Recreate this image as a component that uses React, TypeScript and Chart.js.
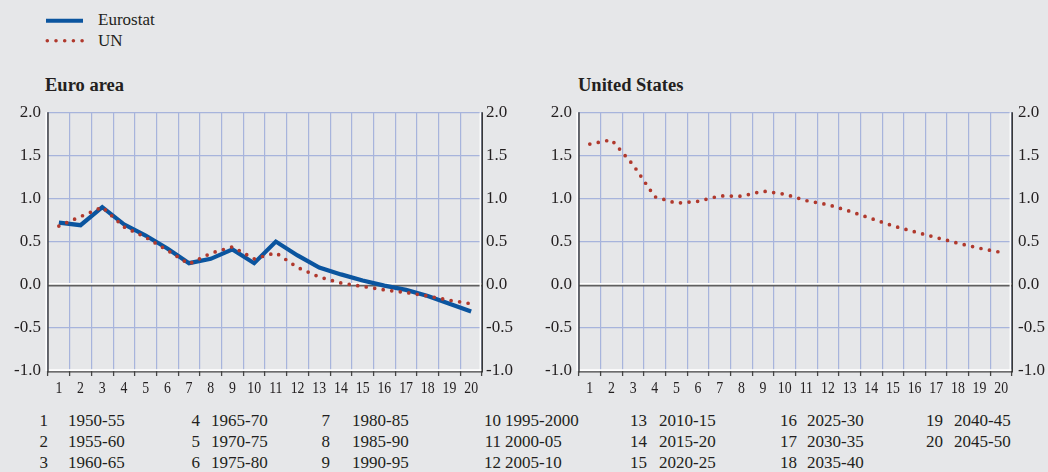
import React, { useEffect, useRef } from 'react';
import { Chart, registerables } from 'chart.js';

Chart.register(...registerables);

// ---------- data ----------
const categories = ['1', '2', '3', '4', '5', '6', '7', '8', '9', '10', '11', '12', '13', '14', '15', '16', '17', '18', '19', '20'];
const periodLabels = ['1950-55', '1955-60', '1960-65', '1965-70', '1970-75', '1975-80', '1980-85', '1985-90', '1990-95', '1995-2000', '2000-05', '2005-10', '2010-15', '2015-20', '2020-25', '2025-30', '2030-35', '2035-40', '2040-45', '2045-50'];
const euroEurostat = [0.72, 0.69, 0.90, 0.70, 0.57, 0.42, 0.25, 0.30, 0.41, 0.25, 0.50, 0.34, 0.20, 0.12, 0.05, -0.01, -0.06, -0.13, -0.22, -0.31];
const euroUN = [0.68, 0.79, 0.90, 0.67, 0.55, 0.40, 0.24, 0.365, 0.44, 0.30, 0.37, 0.20, 0.09, 0.02, -0.02, -0.06, -0.09, -0.13, -0.18, -0.22];
const usUN = [1.63, 1.68, 1.39, 1.02, 0.945, 0.967, 1.03, 1.026, 1.085, 1.05, 0.975, 0.928, 0.852, 0.768, 0.682, 0.614, 0.547, 0.482, 0.423, 0.375];
const yMin = -1;
const yMax = 2;
const yStep = 0.5;
const seriesNames = ['Eurostat', 'UN'];
const panelTitles = ['Euro area', 'United States'];

// ---------- styles ----------
const BG = '#e6e7e9';
const BLUE = '#0b559f';
const RED = '#b0392d';
const GRID = '#a7b4dc';
const TEXT = '#231f20';
const FONT = '"Liberation Serif", "Times New Roman", Times, serif';

const decor = {
  id: 'decor',
  beforeDatasetsDraw(chart: any) {
    const { ctx, chartArea } = chart;
    const { left, right, top, bottom } = chartArea;
    const y0 = chart.scales.y.getPixelForValue(0);
    const line = (x1: number, y1: number, x2: number, y2: number, c: string, w: number) => {
      ctx.beginPath();
      ctx.strokeStyle = c;
      ctx.lineWidth = w;
      ctx.moveTo(x1, y1);
      ctx.lineTo(x2, y2);
      ctx.stroke();
    };
    ctx.save();
    ctx.lineCap = 'butt';
    // zero line
    line(left, y0 - 0.75, right, y0 - 0.75, '#ffffff', 1.8);
    line(left, y0 + 0.9, right, y0 + 0.9, '#5f5f5f', 1.6);
    // bottom edge
    line(left, bottom - 0.9, right, bottom - 0.9, '#ffffff', 1.8);
    line(left, bottom + 0.8, right, bottom + 0.8, '#454545', 1.3);
    // left edge
    line(left - 1.8, top, left - 1.8, bottom, '#ffffff', 1.6);
    line(left, top, left, bottom + 1.4, '#454545', 1.5);
    // right edge
    line(right - 1.6, top, right - 1.6, bottom - 1, '#ffffff', 1.6);
    line(right + 0.2, top, right + 0.2, bottom + 1.4, '#303030', 1.5);
    ctx.restore();
  },
};

// category labels drawn at the x scale's own tick positions, horizontally condensed
const xLabels = {
  id: 'xLabels',
  afterDraw(chart: any) {
    const { ctx, chartArea } = chart;
    const xs = chart.scales.x;
    ctx.save();
    ctx.font = `17.5px ${FONT}`;
    ctx.fillStyle = TEXT;
    ctx.textAlign = 'center';
    ctx.textBaseline = 'alphabetic';
    xs.ticks.forEach((_t: any, i: number) => {
      const x = xs.getPixelForTick(i);
      ctx.save();
      ctx.translate(x, chartArea.bottom + 21.5);
      ctx.scale(0.79, 1);
      ctx.fillText(String(xs.getLabelForValue(i)), 0, 0);
      ctx.restore();
    });
    ctx.restore();
  },
};

function makeConfig(datasets: any[], leftW: number, rightW: number, leftPad: number, rightPad: number) {
  const yTick = {
    font: { family: FONT, size: 17 },
    color: TEXT,
    stepSize: yStep,
    callback: (v: any) => Number(v).toFixed(1),
  };
  return {
    type: 'line',
    data: { labels: categories, datasets },
    plugins: [decor, xLabels],
    options: {
      animation: false,
      responsive: false,
      maintainAspectRatio: false,
      events: [],
      layout: { padding: { top: 13, left: 0, right: 0, bottom: 0 } },
      plugins: { legend: { display: false }, tooltip: { enabled: false }, title: { display: false } },
      elements: { point: { radius: 0 }, line: { tension: 0 } },
      scales: {
        x: {
          type: 'category',
          offset: true,
          grid: {
            offset: true,
            color: GRID,
            lineWidth: 1.2,
            drawTicks: true,
            tickLength: 5,
            tickColor: '#454545',
            tickWidth: 1.3,
          },
          border: { display: false },
          ticks: { display: false, autoSkip: false, maxRotation: 0 },
          afterFit: (s: any) => { s.height = 24; },
        },
        y: {
          position: 'left',
          min: yMin,
          max: yMax,
          grid: {
            color: (c: any) => (c.tick && (c.tick.value === 0 || c.tick.value === yMin) ? 'rgba(0,0,0,0)' : GRID),
            lineWidth: 1.2,
            drawTicks: false,
          },
          border: { display: false },
          ticks: { ...yTick, padding: leftPad },
          afterFit: (s: any) => { s.width = leftW; },
        },
        y2: {
          position: 'right',
          min: yMin,
          max: yMax,
          grid: { drawOnChartArea: false, drawTicks: false },
          border: { display: false },
          ticks: { ...yTick, padding: rightPad },
          afterFit: (s: any) => { s.width = rightW; },
        },
      },
    },
  } as any;
}

function unDataset(data: number[]) {
  return {
    label: seriesNames[1],
    data,
    borderColor: RED,
    borderWidth: 3.7,
    borderDash: [0, 8.6],
    borderCapStyle: 'round',
    pointRadius: 0,
    fill: false,
    order: 0,
  };
}

function eurostatDataset(data: number[]) {
  return {
    label: seriesNames[0],
    data,
    borderColor: BLUE,
    borderWidth: 4.2,
    pointRadius: 0,
    fill: false,
    order: 1,
  };
}

function Panel({ config, left }: { config: () => any; left: number }) {
  const ref = useRef<HTMLCanvasElement | null>(null);
  useEffect(() => {
    if (!ref.current) return;
    const chart = new Chart(ref.current, config());
    return () => chart.destroy();
  }, []);
  return (
    <canvas
      ref={ref}
      width={524}
      height={300}
      style={{ position: 'absolute', left, top: 95, width: 524, height: 300 }}
    />
  );
}

const numRight = [48, 200, 330, 501, 647, 797, 943];
const labelLeft = [68, 211, 352, 505, 659, 807, 954];
const rowTop = [411, 432, 453];

export default function App() {
  useEffect(() => {
    document.body.style.margin = '0';
    document.body.style.background = BG;
  }, []);
  const textStyle: React.CSSProperties = {
    position: 'absolute',
    fontFamily: FONT,
    fontSize: 17,
    lineHeight: '20px',
    color: TEXT,
    whiteSpace: 'nowrap',
  };
  return (
    <div style={{ position: 'absolute', left: 0, top: 0, width: 1048, height: 472, background: BG, overflow: 'hidden' }}>
      {/* legend */}
      <svg style={{ position: 'absolute', left: 40, top: 10 }} width={50} height={40}>
        <line x1={6} y1={10.7} x2={43} y2={10.7} stroke={BLUE} strokeWidth={4} />
        <line x1={7.3} y1={30.7} x2={43} y2={30.7} stroke={RED} strokeWidth={3.6} strokeDasharray="0 8.7" strokeLinecap="round" />
      </svg>
      <div style={{ ...textStyle, left: 98, top: 10 }}>{seriesNames[0]}</div>
      <div style={{ ...textStyle, left: 98, top: 31 }}>{seriesNames[1]}</div>

      {/* panel titles */}
      <div style={{ ...textStyle, left: 45, top: 75, fontWeight: 'bold', fontSize: 18.5 }}>{panelTitles[0]}</div>
      <div style={{ ...textStyle, left: 578, top: 75, fontWeight: 'bold', fontSize: 18.5 }}>{panelTitles[1]}</div>

      <Panel left={0} config={() => makeConfig([eurostatDataset(euroEurostat), unDataset(euroUN)], 48, 42, 7, 4)} />
      <Panel left={524} config={() => makeConfig([unDataset(usUN)], 55, 36, 7, 6)} />

      {/* period key */}
      {periodLabels.map((p, i) => {
        const col = Math.floor(i / 3);
        const row = i % 3;
        return (
          <React.Fragment key={p}>
            <div style={{ ...textStyle, left: numRight[col] - 40, width: 40, textAlign: 'right', top: rowTop[row] }}>{categories[i]}</div>
            <div style={{ ...textStyle, left: labelLeft[col], top: rowTop[row] }}>{p}</div>
          </React.Fragment>
        );
      })}
    </div>
  );
}
